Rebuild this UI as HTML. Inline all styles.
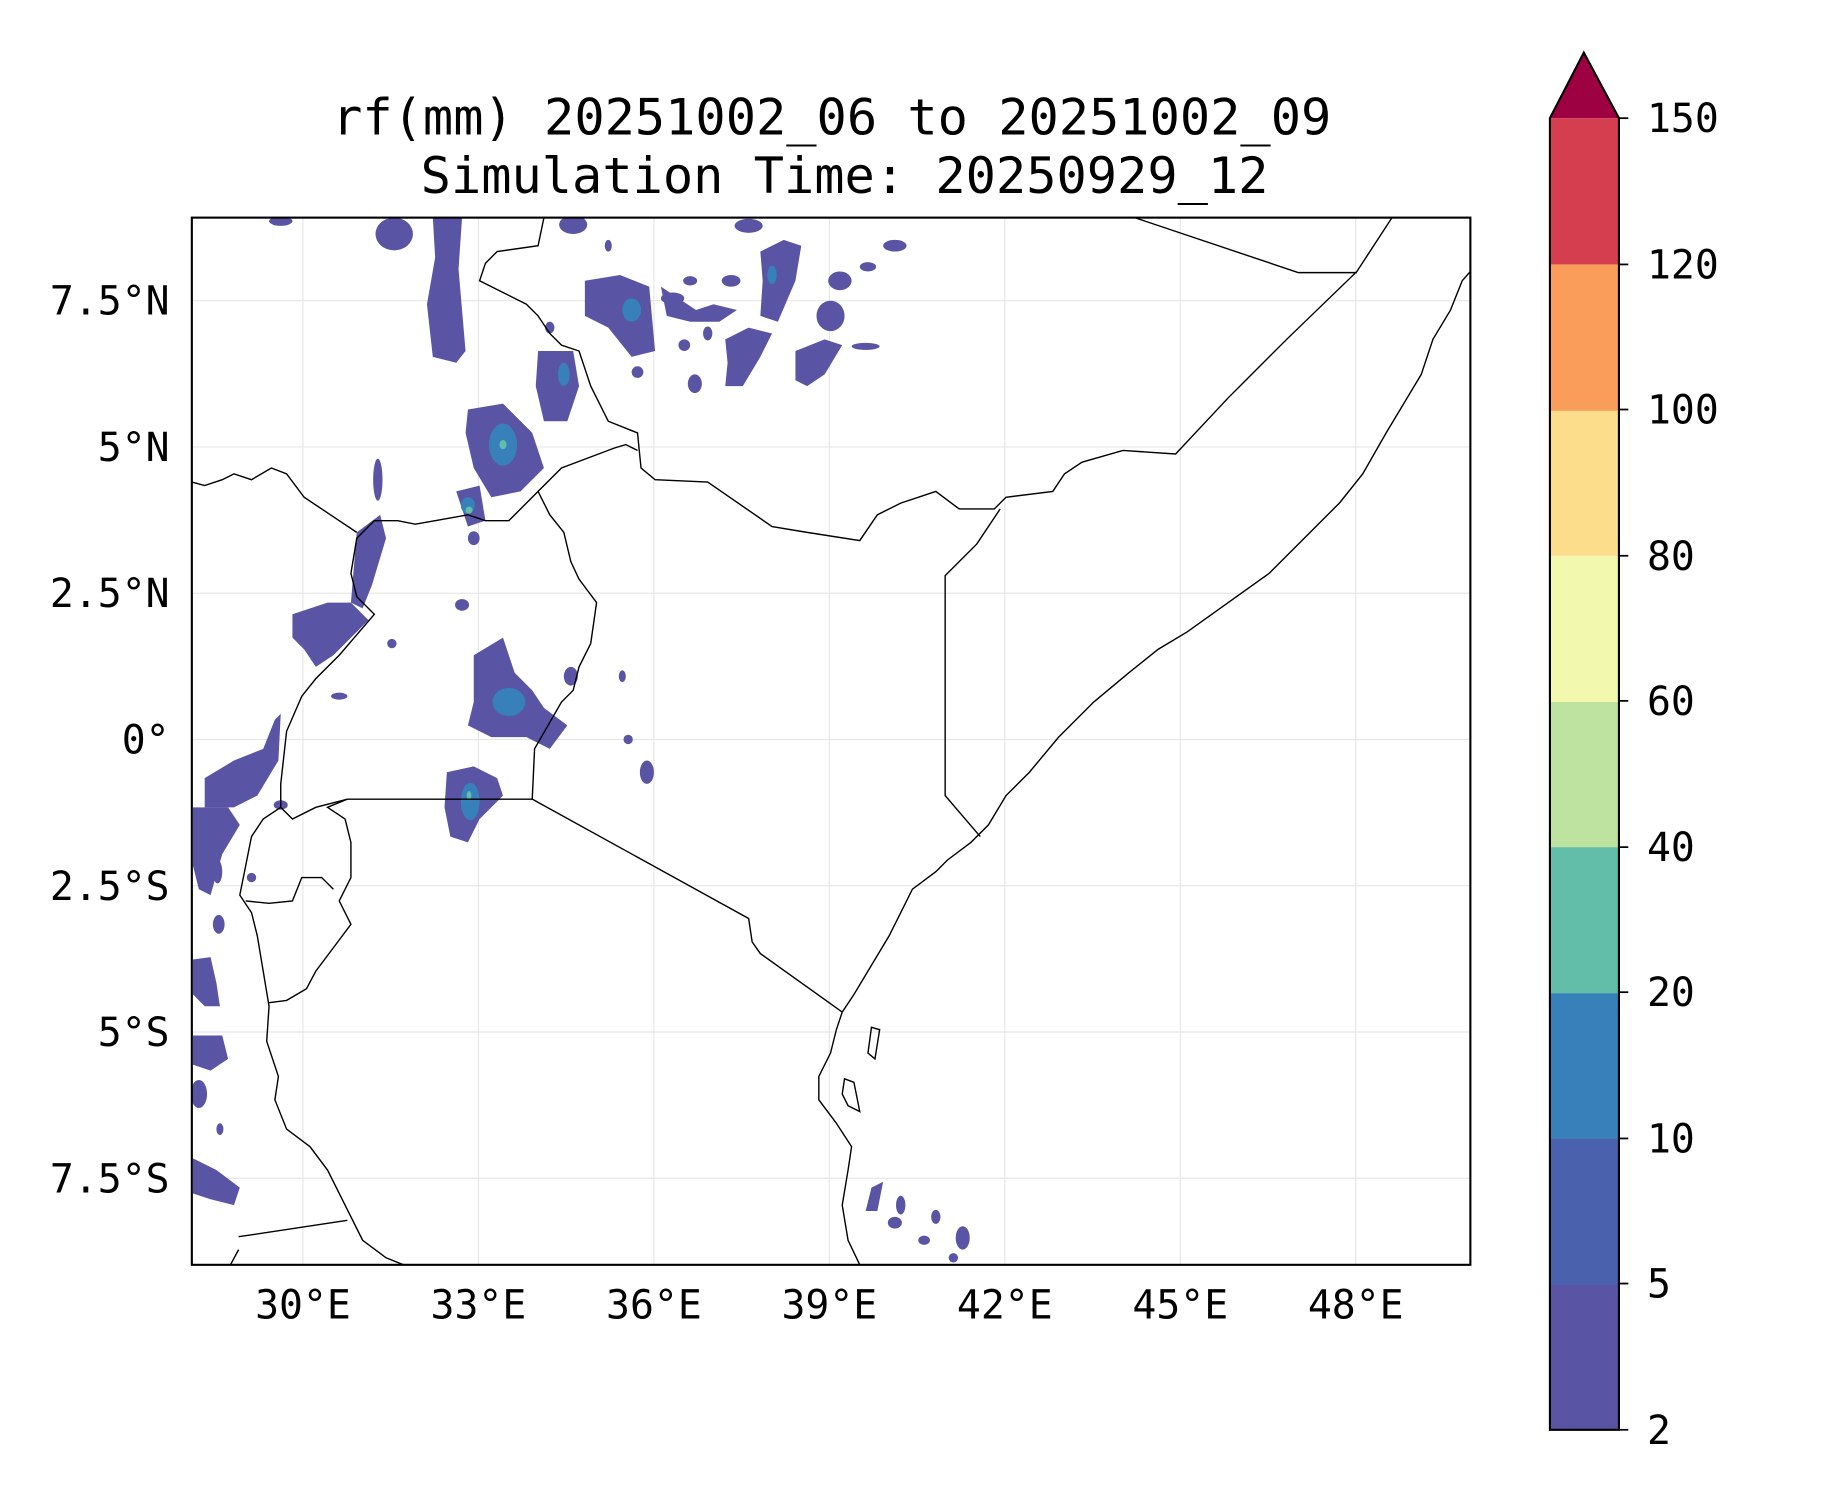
<!DOCTYPE html>
<html><head><meta charset="utf-8"><style>
html,body{margin:0;padding:0;background:#fff}
svg{display:block}
text{font-family:"DejaVu Sans Mono","Liberation Mono",monospace;fill:#000}
</style></head><body>
<svg width="1833" height="1500" viewBox="0 0 1567 1282" preserveAspectRatio="none" xmlns="http://www.w3.org/2000/svg">
<rect width="1567" height="1282" fill="#fff"/>
<text x="711" y="115" font-size="43" text-anchor="middle">rf(mm) 20251002_06 to 20251002_09</text>
<text x="722" y="165" font-size="43" text-anchor="middle">Simulation Time: 20250929_12</text>
<defs><clipPath id="c"><rect x="164" y="186" width="1093" height="895"/></clipPath></defs>
<g stroke="#e6e6e6" stroke-width="1">
<line x1="259" y1="186" x2="259" y2="1081"/><line x1="409" y1="186" x2="409" y2="1081"/><line x1="559" y1="186" x2="559" y2="1081"/><line x1="709" y1="186" x2="709" y2="1081"/><line x1="859" y1="186" x2="859" y2="1081"/><line x1="1009" y1="186" x2="1009" y2="1081"/><line x1="1159" y1="186" x2="1159" y2="1081"/>
<line x1="164" y1="257" x2="1257" y2="257"/><line x1="164" y1="382" x2="1257" y2="382"/><line x1="164" y1="507" x2="1257" y2="507"/><line x1="164" y1="632" x2="1257" y2="632"/><line x1="164" y1="757" x2="1257" y2="757"/><line x1="164" y1="882" x2="1257" y2="882"/><line x1="164" y1="1007" x2="1257" y2="1007"/>
</g>
<g clip-path="url(#c)">
<g fill="#5954a4">
<ellipse cx="337" cy="200" rx="16" ry="14"/>
<path d="M370 186 L395 186 L392 230 L398 300 L390 310 L370 305 L365 260 L372 220Z"/>
<ellipse cx="490" cy="192" rx="12" ry="8"/><ellipse cx="640" cy="193" rx="12" ry="6"/>
<ellipse cx="240" cy="189" rx="10" ry="4"/>
<path d="M500 240 L530 235 L555 245 L560 300 L540 305 L520 280 L500 270Z"/>
<path d="M460 300 L490 300 L495 330 L485 360 L465 360 L458 330Z"/>
<path d="M400 350 L430 345 L455 370 L465 400 L445 420 L420 425 L405 400 L398 370Z"/>
<path d="M390 420 L410 415 L415 445 L400 450Z"/>
<ellipse cx="323" cy="410" rx="4" ry="18"/>
<path d="M305 455 L325 440 L330 460 L318 500 L310 520 L300 515Z"/>
<path d="M250 525 L280 515 L300 515 L315 530 L285 560 L270 570 L260 555 L250 545Z"/>
<path d="M175 665 L200 650 L225 640 L235 615 L240 610 L238 650 L220 680 L200 690 L175 690Z"/>
<path d="M165 690 L195 690 L205 705 L190 730 L180 765 L170 760 L165 740Z"/>
<path d="M405 560 L430 545 L440 575 L455 590 L465 605 L485 620 L470 640 L450 630 L420 630 L400 620 L405 600Z"/>
<path d="M382 660 L405 655 L425 665 L430 680 L410 700 L400 720 L385 715 L380 690Z"/>
<ellipse cx="488" cy="578" rx="6" ry="8"/><ellipse cx="553" cy="660" rx="6" ry="10"/><ellipse cx="537" cy="632" rx="4" ry="4"/><ellipse cx="532" cy="578" rx="3" ry="5"/>
<ellipse cx="395" cy="517" rx="6" ry="5"/><ellipse cx="405" cy="460" rx="5" ry="6"/><ellipse cx="335" cy="550" rx="4" ry="4"/>
<path d="M565 245 L595 265 L610 260 L630 265 L615 275 L590 275 L570 270Z"/>
<path d="M650 215 L670 205 L685 210 L680 240 L665 275 L650 270 L652 240Z"/>
<path d="M620 290 L640 280 L660 285 L650 305 L635 330 L620 330 L622 310Z"/>
<ellipse cx="718" cy="240" rx="10" ry="8"/><ellipse cx="710" cy="270" rx="12" ry="13"/>
<path d="M680 300 L705 290 L720 295 L705 320 L690 330 L680 325Z"/>
<ellipse cx="594" cy="328" rx="6" ry="8"/><ellipse cx="575" cy="255" rx="10" ry="5"/><ellipse cx="605" cy="285" rx="4" ry="6"/>
<ellipse cx="765" cy="210" rx="10" ry="5"/><ellipse cx="742" cy="228" rx="7" ry="4"/><ellipse cx="740" cy="296" rx="12" ry="3"/>
<ellipse cx="625" cy="240" rx="8" ry="5"/><ellipse cx="590" cy="240" rx="6" ry="4"/><ellipse cx="520" cy="210" rx="3" ry="5"/>
<ellipse cx="545" cy="318" rx="5" ry="5"/><ellipse cx="585" cy="295" rx="5" ry="5"/><ellipse cx="470" cy="280" rx="4" ry="5"/>
<path d="M165 820 L180 818 L185 840 L188 860 L175 860 L165 850Z"/>
<path d="M165 885 L190 885 L195 905 L180 915 L165 910Z"/>
<ellipse cx="170" cy="935" rx="7" ry="12"/>
<path d="M165 990 L185 1000 L205 1015 L200 1030 L180 1025 L165 1020Z"/>
<ellipse cx="187" cy="790" rx="5" ry="8"/><ellipse cx="186" cy="745" rx="4" ry="10"/><ellipse cx="188" cy="965" rx="3" ry="5"/>
<ellipse cx="240" cy="688" rx="6" ry="4"/><ellipse cx="215" cy="750" rx="4" ry="4"/><ellipse cx="290" cy="595" rx="7" ry="3"/>
<path d="M745 1015 L755 1010 L750 1035 L740 1035Z"/>
<ellipse cx="770" cy="1030" rx="4" ry="8"/><ellipse cx="765" cy="1045" rx="6" ry="5"/><ellipse cx="800" cy="1040" rx="4" ry="6"/><ellipse cx="823" cy="1058" rx="6" ry="10"/><ellipse cx="790" cy="1060" rx="5" ry="4"/><ellipse cx="815" cy="1075" rx="4" ry="4"/>
</g>
<g fill="#3880b9">
<ellipse cx="430" cy="380" rx="12" ry="18"/><ellipse cx="435" cy="600" rx="14" ry="12"/><ellipse cx="402" cy="685" rx="8" ry="16"/><ellipse cx="482" cy="320" rx="5" ry="10"/><ellipse cx="540" cy="265" rx="8" ry="10"/><ellipse cx="400" cy="432" rx="6" ry="7"/><ellipse cx="660" cy="235" rx="4" ry="8"/>
</g>
<g fill="#62bda9"><ellipse cx="430" cy="380" rx="3" ry="4"/><ellipse cx="401" cy="436" rx="3" ry="3"/><ellipse cx="401" cy="680" rx="2" ry="4"/></g>
<g fill="none" stroke="#000" stroke-width="1.2">
<path d="M1257 232 L1250 240 L1240 265 L1225 290 L1215 320 L1200 345 L1185 370 L1165 405 L1145 430 L1120 455 L1085 490 L1050 515 L1015 540 L990 555 L965 575 L935 600 L905 630 L880 660 L860 680 L845 705 L830 720 L810 735 L800 745 L780 760 L770 780 L760 800 L745 825 L730 850 L720 865 L715 880 L710 900 L700 920 L700 940 L715 960 L728 980 L725 1000 L720 1030 L725 1060 L735 1081"/>
<path d="M745 878 L752 880 L748 905 L742 900Z"/><path d="M722 922 L730 925 L735 950 L725 945 L720 935Z"/>
<path d="M455 683 L640 785 L643 805 L650 815 L720 865"/>
<path d="M455 683 L457 640 L480 600 L490 590 L495 570 L505 550 L510 515 L495 495 L488 480 L482 455 L470 440 L460 420"/>
<path d="M297 683 L455 683"/>
<path d="M297 683 L280 690 L295 700 L300 720 L300 750 L290 770 L300 790 L285 810 L270 830 L262 845 L245 855 L230 857"/>
<path d="M297 683 L270 690 L250 700 L240 690 L240 670 L245 625 L258 595 L270 580 L290 560 L320 525 L305 510 L300 490 L305 460 L320 445 L340 445 L355 448 L372 445 L400 440 L415 445 L435 445 L460 420 L480 400 L525 383 L535 380 L545 385"/>
<path d="M164 412 L175 415 L190 410 L200 405 L215 410 L232 400 L245 405 L260 425 L275 435 L290 445 L305 455"/>
<path d="M465 186 L460 210 L425 215 L415 225 L410 240 L430 250 L450 260 L460 270 L470 285 L480 295 L495 300 L505 330 L520 360 L545 370 L548 400 L560 410 L605 412 L660 450 L690 455 L735 462 L750 440 L770 430 L800 420 L820 435 L850 435 L860 425 L900 420 L910 405 L925 395 L960 385 L1005 388 L1050 340 L1100 290 L1160 232 L1190 186"/>
<path d="M855 435 L835 465 L808 492 L808 680 L838 715"/>
<path d="M970 186 L1110 233 L1160 233"/>
<path d="M240 690 L225 700 L215 715 L210 740 L205 765 L215 780 L220 800 L225 830 L230 860 L228 890 L238 920 L235 940 L245 965 L265 980 L280 1000 L290 1020 L300 1040 L310 1060 L330 1075 L345 1081"/>
<path d="M210 770 L230 772 L250 770 L258 750 L275 750 L285 760"/>
<path d="M204 1057 L297 1043"/><path d="M197 1081 L204 1068"/>
</g>
</g>
<rect x="164" y="186" width="1093" height="895" fill="none" stroke="#000" stroke-width="1.8"/>
<g font-size="34">
<text x="259" y="1127" text-anchor="middle">30°E</text><text x="409" y="1127" text-anchor="middle">33°E</text><text x="559" y="1127" text-anchor="middle">36°E</text><text x="709" y="1127" text-anchor="middle">39°E</text><text x="859" y="1127" text-anchor="middle">42°E</text><text x="1009" y="1127" text-anchor="middle">45°E</text><text x="1159" y="1127" text-anchor="middle">48°E</text>
<text x="145" y="269" text-anchor="end">7.5°N</text><text x="145" y="394" text-anchor="end">5°N</text><text x="145" y="519" text-anchor="end">2.5°N</text><text x="145" y="644" text-anchor="end">0°</text><text x="145" y="769" text-anchor="end">2.5°S</text><text x="145" y="894" text-anchor="end">5°S</text><text x="145" y="1019" text-anchor="end">7.5°S</text>
</g>
<g>
<rect x="1325" y="1097" width="59" height="125" fill="#5954a4"/>
<rect x="1325" y="973" width="59" height="125" fill="#4a62ad"/>
<rect x="1325" y="848" width="59" height="125" fill="#3880b9"/>
<rect x="1325" y="724" width="59" height="125" fill="#62bda9"/>
<rect x="1325" y="599" width="59" height="125" fill="#bee3a0"/>
<rect x="1325" y="475" width="59" height="125" fill="#f2f8ad"/>
<rect x="1325" y="350" width="59" height="125" fill="#fcdd8c"/>
<rect x="1325" y="226" width="59" height="125" fill="#fa9c5a"/>
<rect x="1325" y="101" width="59" height="125" fill="#d53e4f"/>
<path d="M1325 101 L1354 45 L1384 101Z" fill="#9e0142"/>
<path d="M1325 1222 L1325 101 L1354 45 L1384 101 L1384 1222Z" fill="none" stroke="#000" stroke-width="1.8"/>
<g stroke="#000" stroke-width="1.5"><line x1="1384" y1="101" x2="1392" y2="101"/><line x1="1384" y1="226" x2="1392" y2="226"/><line x1="1384" y1="350" x2="1392" y2="350"/><line x1="1384" y1="475" x2="1392" y2="475"/><line x1="1384" y1="599" x2="1392" y2="599"/><line x1="1384" y1="724" x2="1392" y2="724"/><line x1="1384" y1="848" x2="1392" y2="848"/><line x1="1384" y1="973" x2="1392" y2="973"/><line x1="1384" y1="1097" x2="1392" y2="1097"/><line x1="1384" y1="1222" x2="1392" y2="1222"/></g>
<g font-size="34"><text x="1408" y="113">150</text><text x="1408" y="238">120</text><text x="1408" y="362">100</text><text x="1408" y="487">80</text><text x="1408" y="611">60</text><text x="1408" y="736">40</text><text x="1408" y="860">20</text><text x="1408" y="985">10</text><text x="1408" y="1109">5</text><text x="1408" y="1234">2</text></g>
</g>
</svg>
</body></html>
